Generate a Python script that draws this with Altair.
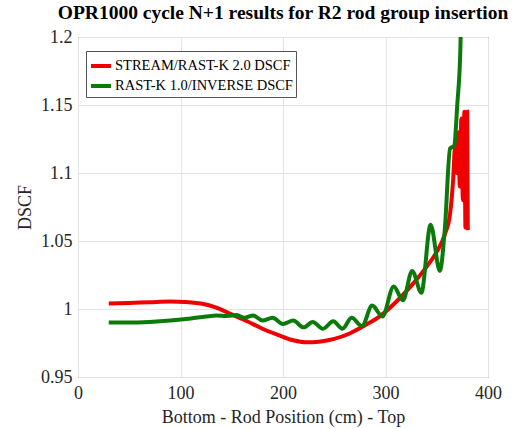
import altair as alt
import pandas as pd

red_name = "STREAM/RAST-K 2.0 DSCF"
green_name = "RAST-K 1.0/INVERSE DSCF"

red_x = [30, 50, 70, 90, 105, 120, 135, 150, 165, 180, 195, 210, 222, 235, 250, 265, 280,
         295, 310, 325, 340, 350, 358, 363, 366, 368, 369.5, 371, 372.5, 374, 375.5, 377,
         378, 379, 379.7, 380.3]
red_y = [1.004, 1.0045, 1.005, 1.0055, 1.0052, 1.004, 1.001, 0.996, 0.991, 0.9855, 0.981,
         0.977, 0.9755, 0.976, 0.978, 0.982, 0.988, 0.995, 1.005, 1.017, 1.031, 1.042,
         1.055, 1.07, 1.095, 1.12, 1.10, 1.13, 1.09, 1.14, 1.08, 1.145, 1.06, 1.12, 1.145,
         1.058]

green_x = [30, 50, 70, 90, 110, 125, 135, 145, 155, 162, 171, 180, 190, 200, 210, 220, 229,
           239, 249, 258, 267, 277, 287, 297, 308, 317, 326, 335, 344, 353, 358, 363, 367,
           370, 373, 374]
green_y = [0.990, 0.990, 0.9905, 0.9915, 0.993, 0.9945, 0.9952, 0.9948, 0.9955, 0.9935,
           0.9952, 0.9915, 0.9935, 0.989, 0.9915, 0.9865, 0.9905, 0.9855, 0.991, 0.9855,
           0.9935, 0.9875, 1.0025, 0.9945, 1.0165, 1.0065, 1.028, 1.012, 1.062, 1.028, 1.06,
           1.118, 1.12, 1.15, 1.19, 1.22]

x_ticks = [0, 100, 200, 300, 400]
y_ticks = [0.95, 1.0, 1.05, 1.1, 1.15, 1.2]

df = pd.concat([
    pd.DataFrame({"x": red_x, "y": red_y, "series": red_name, "o": range(len(red_x))}),
    pd.DataFrame({"x": green_x, "y": green_y, "series": green_name, "o": range(len(green_x))}),
])

font = "Liberation Serif"
axis_color = "#262626"

chart = alt.Chart(df).mark_line(strokeWidth=4, clip=True, interpolate="monotone").encode(
    x=alt.X("x:Q", scale=alt.Scale(domain=[0, 400], nice=False),
            axis=alt.Axis(values=x_ticks, title="Bottom - Rod Position (cm) - Top",
                          ticks=False, labelFlush=False, labelPadding=7, titlePadding=6)),
    y=alt.Y("y:Q", scale=alt.Scale(domain=[0.95, 1.2], nice=False, zero=False),
            axis=alt.Axis(values=y_ticks, format=".3~g", title="DSCF",
                          ticks=False, labelFlush=False, labelPadding=6, titlePadding=6)),
    color=alt.Color("series:N",
                    scale=alt.Scale(domain=[red_name, green_name], range=["#f00000", "#0a7a0a"]),
                    legend=alt.Legend(title=None, orient="none", legendX=8, legendY=14,
                                      symbolType="stroke", symbolSize=400, symbolStrokeWidth=4,
                                      labelFont=font, labelFontSize=14.5, labelColor="black",
                                      strokeColor="#555555", fillColor="white", padding=3,
                                      rowPadding=0, labelOffset=2, labelLimit=300)),
    order="o:Q",
).properties(
    width=410, height=340,
    title=alt.Title("OPR1000 cycle N+1 results for R2 rod group insertion",
                    font=font, fontSize=19.5, fontWeight="bold", color="black", offset=5),
    autosize=alt.AutoSizeParams(type="none"),
    padding={"left": 78, "top": 37, "right": 37, "bottom": 52},
    background="white",
).configure_axis(
    labelFont=font, labelFontSize=18, labelColor=axis_color,
    titleFont=font, titleFontSize=18, titleColor=axis_color, titleFontWeight="normal",
    gridColor="#e3e3e3", domain=False,
).configure_view(
    stroke=axis_color, strokeWidth=1,
)

chart.save("out.html", embed_options={"renderer": "svg", "actions": False})
